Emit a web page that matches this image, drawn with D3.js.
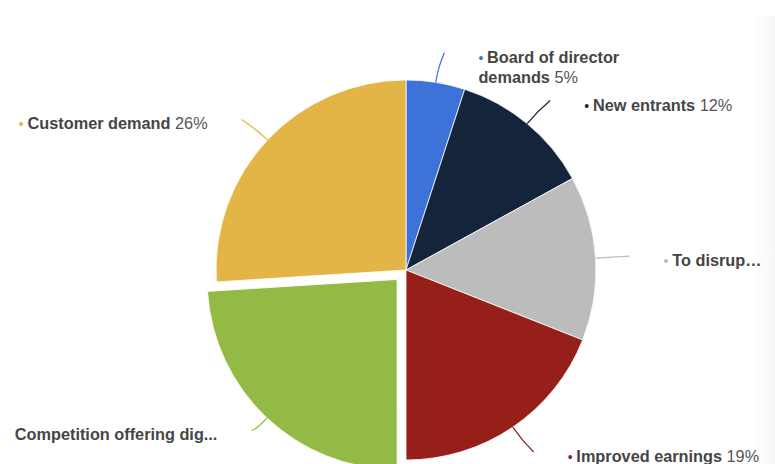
<!DOCTYPE html>
<html>
<head>
<meta charset="utf-8">
<script src="https://cdn.jsdelivr.net/npm/d3@7/dist/d3.min.js"></script>
<style>
  html, body { margin: 0; padding: 0; background: #fff; }
  svg { display: block; }
  text { font-family: "Liberation Sans", Arial, Helvetica, sans-serif; }
</style>
</head>
<body>
<svg id="chart" width="775" height="464"></svg>
<script>
// Drivers of digital transformation, share of respondents (%)
const categories = [
  "Board of director demands",
  "New entrants",
  "To disrup\u2026",
  "Improved earnings",
  "Competition offering dig...",
  "Customer demand"
];
const values = [5, 12, 14, 19, 24, 26];
const showValue = [true, true, false, true, false, true];
const showBullet = [true, true, true, true, false, true];
const colors = ["#3d72d8", "#14253b", "#bcbcbc", "#962019", "#93ba45", "#e3b546"];
const exploded = [false, false, false, false, true, false];

const width = 775, height = 464;
const cx = 406, cy = 270, radius = 190;
const explodeOffset = 13;

const svg = d3.select("#chart");

// faint shaded strip along the right edge
const defs = svg.append("defs");
const grad = defs.append("linearGradient").attr("id", "edgeShade")
  .attr("x1", "0").attr("x2", "1").attr("y1", "0").attr("y2", "0");
grad.append("stop").attr("offset", "0").attr("stop-color", "#ffffff");
grad.append("stop").attr("offset", "1").attr("stop-color", "#f7f7f7");
svg.append("rect").attr("x", 752).attr("y", 16).attr("width", 23).attr("height", height - 16)
  .attr("fill", "url(#edgeShade)");

const data = categories.map((c, i) => ({
  name: c, value: values[i], color: colors[i],
  showValue: showValue[i], bullet: showBullet[i], exploded: exploded[i]
}));

const pie = d3.pie().value(d => d.value).sort(null);
const arcs = pie(data);
const arc = d3.arc().innerRadius(0).outerRadius(radius);

const g = svg.append("g").attr("transform", `translate(${cx},${cy})`);

function polar(r, a) { return [r * Math.sin(a), -r * Math.cos(a)]; }

arcs.forEach(a => {
  const mid = (a.startAngle + a.endAngle) / 2;
  a.mid = mid;
  a.offset = a.data.exploded ? polar(explodeOffset, mid) : [0, 0];
});

g.selectAll("path.slice")
  .data(arcs)
  .join("path")
  .attr("class", "slice")
  .attr("d", arc)
  .attr("transform", d => `translate(${d.offset[0]},${d.offset[1]})`)
  .attr("fill", d => d.data.color)
  .attr("stroke", "#ffffff")
  .attr("stroke-width", 0.8);

// leader lines and labels
const textColor = "#454545";
const valueColor = "#555555";
const fontSize = 16.3;

arcs.forEach(a => {
  const start = polar(radius, a.mid);
  start[0] += a.offset[0]; start[1] += a.offset[1];
  const ctrl = polar(radius + 16, a.mid);
  ctrl[0] += a.offset[0]; ctrl[1] += a.offset[1];
  const endBase = polar(radius + 30, a.mid);
  const side = endBase[0] >= 0 ? 1 : -1;
  const end = [endBase[0] + side * 4, endBase[1]];

  const p = d3.path();
  p.moveTo(start[0], start[1]);
  p.quadraticCurveTo(ctrl[0], ctrl[1], end[0], end[1]);
  g.append("path").attr("d", p.toString())
    .attr("fill", "none")
    .attr("stroke", a.data.color)
    .attr("stroke-width", 1.2);

  const tx = end[0] + side * 34;
  const ty = end[1] + 10;
  const anchor = side > 0 ? "start" : "end";

  const lines = a.data.name === "Board of director demands"
    ? ["Board of director", "demands"] : [a.data.name];

  lines.forEach((ln, li) => {
    const t = g.append("text")
      .attr("x", tx).attr("y", ty + li * 20)
      .attr("text-anchor", anchor)
      .attr("font-size", fontSize);
    if (li === 0 && a.data.bullet) {
      t.append("tspan").attr("fill", a.data.color).attr("font-size", fontSize * 0.85)
        .text("\u2022 ");
    }
    t.append("tspan").attr("fill", textColor).attr("font-weight", "bold").text(ln);
    if (li === lines.length - 1 && a.data.showValue) {
      t.append("tspan").attr("fill", valueColor).text(" " + a.data.value + "%");
    }
  });
});
</script>
</body>
</html>
